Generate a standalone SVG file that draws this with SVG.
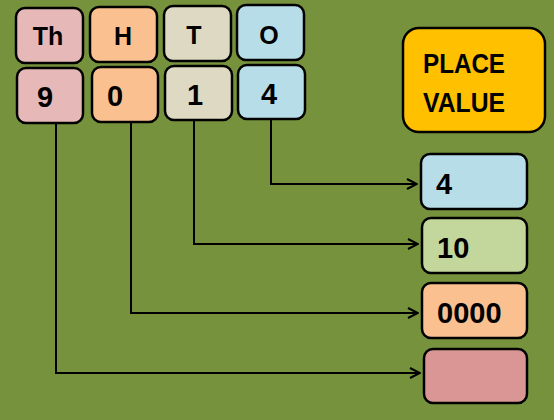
<svg xmlns="http://www.w3.org/2000/svg" width="554" height="420" viewBox="0 0 554 420">
<defs>
<marker id="ah" viewBox="0 0 12 12" refX="11" refY="6" markerWidth="12" markerHeight="12" markerUnits="userSpaceOnUse" orient="auto">
<path d="M1,1 L11,6 L1,11" fill="none" stroke="#000" stroke-width="2"/>
</marker>
<style>
.b{stroke:#000;stroke-width:2.5}
.t{font-family:"Liberation Sans",Arial,sans-serif;font-weight:bold;font-size:25px;fill:#000}
.d{font-size:29px}
.c{text-anchor:middle}
.l{fill:none;stroke:#000;stroke-width:2}
</style>
</defs>
<rect width="554" height="420" fill="#77923C"/>
<g id="h-th"><rect class="b" x="16" y="8" width="67" height="55" rx="9" fill="#E6B9B8"/><text class="t c" x="48" y="45">Th</text></g>
<g id="h-h"><rect class="b" x="90" y="7" width="67" height="55" rx="9" fill="#FAC090"/><text class="t c" x="123" y="45">H</text></g>
<g id="h-t"><rect class="b" x="164" y="6" width="67" height="55" rx="9" fill="#DDD9C3"/><text class="t c" x="194" y="44">T</text></g>
<g id="h-o"><rect class="b" x="237" y="5" width="67" height="55" rx="9" fill="#B7DEE8"/><text class="t c" x="269" y="44">O</text></g>
<g id="d-9"><rect class="b" x="17" y="68" width="66" height="55" rx="9" fill="#E6B9B8"/><text class="t d c" x="45" y="107">9</text></g>
<g id="d-0"><rect class="b" x="92" y="67" width="66" height="55" rx="9" fill="#FAC090"/><text class="t d c" x="115" y="106">0</text></g>
<g id="d-1"><rect class="b" x="165" y="66" width="67" height="54" rx="9" fill="#DDD9C3"/><text class="t d c" x="195" y="105">1</text></g>
<g id="d-4"><rect class="b" x="238" y="65" width="67" height="54" rx="9" fill="#B7DEE8"/><text class="t d c" x="269" y="104">4</text></g>
<g id="place-value"><rect class="b" x="403" y="28" width="142" height="104" rx="16" fill="#FFC000"/><text class="t" x="423" y="73" style="font-size:27px" textLength="82" lengthAdjust="spacingAndGlyphs">PLACE</text><text class="t" x="423" y="112" style="font-size:27px" textLength="82" lengthAdjust="spacingAndGlyphs">VALUE</text></g>
<g id="r-4"><rect class="b" x="421" y="154" width="106" height="55" rx="9" fill="#B7DEE8"/><text class="t d" x="436" y="194">4</text></g>
<g id="r-10"><rect class="b" x="422" y="218" width="105" height="55" rx="9" fill="#C3D69B"/><text class="t d" x="437" y="258">10</text></g>
<g id="r-0000"><rect class="b" x="422" y="283" width="105" height="55" rx="9" fill="#FAC090"/><text class="t d" x="437" y="323">0000</text></g>
<g id="r-empty"><rect class="b" x="424" y="349" width="103" height="54" rx="9" fill="#D99694"/></g>
<g id="connectors">
<path class="l" d="M271,119 V184 H417" marker-end="url(#ah)"/>
<path class="l" d="M194,120 V244 H418" marker-end="url(#ah)"/>
<path class="l" d="M131,122 V313 H418" marker-end="url(#ah)"/>
<path class="l" d="M56,123 V373 H420" marker-end="url(#ah)"/>
</g>
</svg>
